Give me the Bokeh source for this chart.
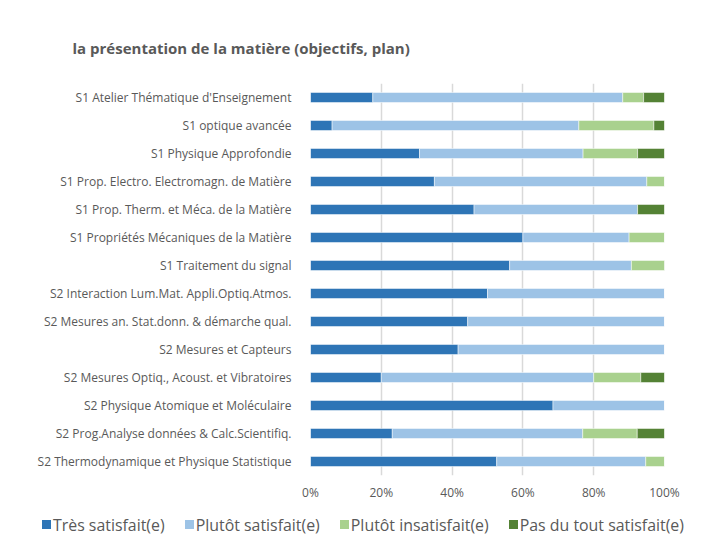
from bokeh.plotting import figure
from bokeh.layouts import column
from bokeh.models import ColumnDataSource, FactorRange, NumeralTickFormatter, FixedTicker, Div
from bokeh.embed import file_html
from bokeh.resources import INLINE

categories = [
    "S1 Atelier Thématique d'Enseignement",
    "S1 optique avancée",
    "S1 Physique Approfondie",
    "S1 Prop. Electro. Electromagn. de Matière",
    "S1 Prop. Therm. et Méca. de la Matière",
    "S1 Propriétés Mécaniques de la Matière",
    "S1 Traitement du signal",
    "S2 Interaction Lum.Mat. Appli.Optiq.Atmos.",
    "S2 Mesures an. Stat.donn. & démarche qual.",
    "S2 Mesures et Capteurs",
    "S2 Mesures Optiq., Acoust. et Vibratoires",
    "S2 Physique Atomique et Moléculaire",
    "S2 Prog.Analyse données & Calc.Scientifiq.",
    "S2 Thermodynamique et Physique Statistique",
]
tres_satisfait = [0.176, 0.061, 0.308, 0.35, 0.462, 0.60, 0.5625, 0.50, 0.444, 0.417, 0.20, 0.685, 0.231, 0.526]
plutot_satisfait = [0.706, 0.697, 0.462, 0.60, 0.462, 0.30, 0.344, 0.50, 0.556, 0.583, 0.60, 0.315, 0.538, 0.421]
plutot_insatisfait = [0.059, 0.212, 0.154, 0.05, 0.0, 0.10, 0.094, 0.0, 0.0, 0.0, 0.133, 0.0, 0.154, 0.053]
pas_du_tout = [0.059, 0.030, 0.077, 0.0, 0.077, 0.0, 0.0, 0.0, 0.0, 0.0, 0.067, 0.0, 0.077, 0.0]
series_names = ["Très satisfait(e)", "Plutôt satisfait(e)", "Plutôt insatisfait(e)", "Pas du tout satisfait(e)"]
x_ticks = [0, 0.2, 0.4, 0.6, 0.8, 1.0]
title_text = "la présentation de la matière (objectifs, plan)"

colors = ["#2E75B6", "#9DC3E6", "#A9D18E", "#548235"]
keys = ["s0", "s1", "s2", "s3"]

source = ColumnDataSource(dict(cat=categories, s0=tres_satisfait, s1=plutot_satisfait,
                               s2=plutot_insatisfait, s3=pas_du_tout))

FONT = "Open Sans"
TXT = "#595959"

p = figure(frame_width=354, frame_height=392, output_backend="svg", toolbar_location=None,
           y_range=FactorRange(factors=list(reversed(categories)), range_padding=0),
           x_range=(0, 1), min_border_left=310, min_border_right=45,
           min_border_top=83, min_border_bottom=35)
p.title.text = title_text
p.title.text_font = FONT
p.title.text_font_size = "15px"
p.title.text_font_style = "bold"
p.title.text_color = TXT
p.title.offset = -238
p.title.standoff = 52

renderers = p.hbar_stack(keys, y="cat", height=0.36, color=colors, source=source,
                         line_color="white", line_width=0.5)

p.outline_line_color = None
p.xaxis.ticker = FixedTicker(ticks=x_ticks)
p.xaxis.formatter = NumeralTickFormatter(format="0%")
p.xaxis.axis_line_color = None
p.xaxis.major_tick_line_color = None
p.xaxis.minor_tick_line_color = None
p.xaxis.major_tick_out = 0
p.xaxis.minor_tick_out = 0
p.xaxis.major_label_text_font = FONT
p.xaxis.major_label_text_font_size = "12px"
p.xaxis.major_label_text_color = TXT
p.xaxis.major_label_standoff = 8
p.yaxis.axis_line_color = None
p.yaxis.major_tick_line_color = None
p.yaxis.minor_tick_line_color = None
p.yaxis.major_tick_out = 0
p.yaxis.minor_tick_out = 0
p.yaxis.major_label_text_font = FONT
p.yaxis.major_label_text_font_size = "12px"
p.yaxis.major_label_text_color = TXT
p.yaxis.major_label_standoff = 19
p.ygrid.grid_line_color = None
p.xgrid.grid_line_color = "#D9D9D9"
p.xgrid.grid_line_width = 1.5

# legend strip below the chart (HTML, real text)
items_html = "".join(
    f'<span style="display:inline-flex;align-items:center;margin-right:20px">'
    f'<span style="display:inline-block;width:9px;height:9px;background:{c};margin-right:2px"></span>'
    f'{n}</span>'
    for n, c in zip(series_names, colors)
)
legend_div = Div(
    text=f'<div style="font-family:\'Open Sans\';font-size:15.9px;color:{TXT};white-space:nowrap;'
         f'padding-left:42px;padding-top:3px;line-height:20px">{items_html}</div>',
    width=709, height=33, margin=0,
)

layout = column(p, legend_div, spacing=0)
open("out.html", "w").write(file_html(layout, INLINE))
